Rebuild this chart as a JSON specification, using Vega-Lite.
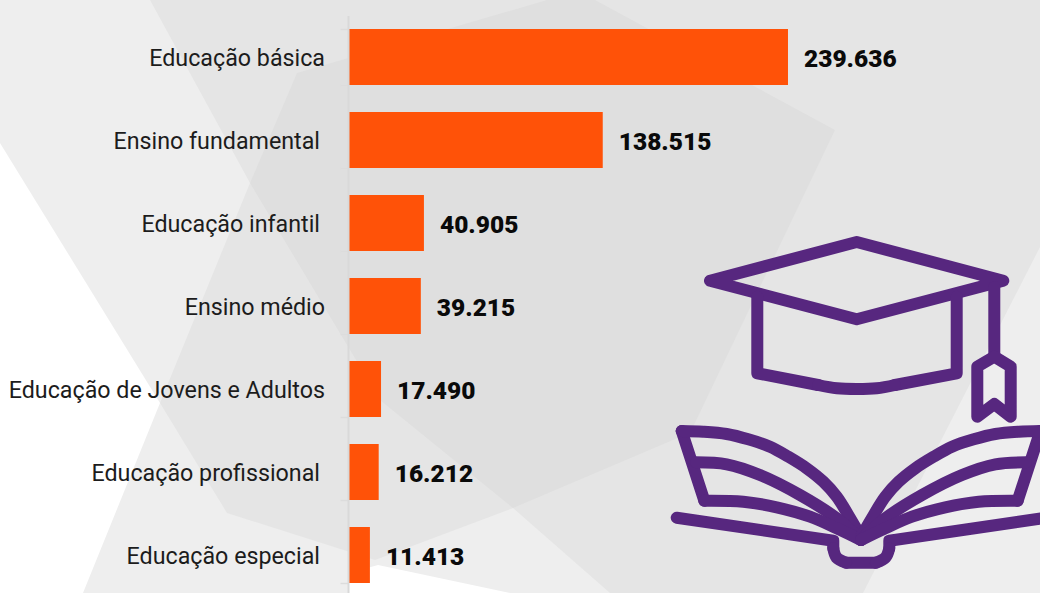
{
"$schema":"https://vega.github.io/schema/vega-lite/v6.json",
"width":1040,"height":593,"padding":0,"autosize":{"type":"none"},
"background":"#ffffff",
"config":{"view":{"stroke":null}},
"datasets":{
"claro":[{"o":1,"x":0,"y":0},{"o":2,"x":1040,"y":0},{"o":3,"x":1040,"y":593},{"o":4,"x":83,"y":593},{"o":5,"x":160,"y":403},{"o":6,"x":0,"y":143},{"o":7,"x":0,"y":0}],
"branco":[{"o":1,"x":349,"y":593},{"o":2,"x":349,"y":573},{"o":3,"x":378,"y":565},{"o":4,"x":510,"y":593},{"o":5,"x":349,"y":593}],
"medio":[{"o":1,"x":150,"y":0},{"o":2,"x":1040,"y":0},{"o":3,"x":1040,"y":247},{"o":4,"x":863,"y":593},{"o":5,"x":610,"y":593},{"o":6,"x":513,"y":508},{"o":7,"x":375,"y":560},{"o":8,"x":227,"y":513},{"o":9,"x":160,"y":403},{"o":10,"x":250,"y":183},{"o":11,"x":150,"y":0}],
"escuro":[{"o":1,"x":297,"y":73},{"o":2,"x":547,"y":0},{"o":3,"x":595,"y":0},{"o":4,"x":835,"y":130},{"o":5,"x":693,"y":427},{"o":6,"x":680,"y":437},{"o":7,"x":513,"y":508},{"o":8,"x":380,"y":400},{"o":9,"x":250,"y":183},{"o":10,"x":297,"y":73}],
"retas":[
{"p":"capelo","o":1,"x":710,"y":280.7},{"p":"capelo","o":2,"x":856.7,"y":242},{"p":"capelo","o":3,"x":1003.3,"y":280.7},{"p":"capelo","o":4,"x":856.7,"y":319.3},{"p":"capelo","o":5,"x":710,"y":280.7},
{"p":"baseE","o":1,"x":757.3,"y":296.7},{"p":"baseE","o":2,"x":757.3,"y":373.3},{"p":"baseE","o":3,"x":818,"y":385},
{"p":"baseD","o":1,"x":956.7,"y":296.7},{"p":"baseD","o":2,"x":956.7,"y":373.3},{"p":"baseD","o":3,"x":895,"y":385},
{"p":"fio","o":1,"x":994.3,"y":287},{"p":"fio","o":2,"x":994.3,"y":357},
{"p":"borla","o":1,"x":994.3,"y":356.7},{"p":"borla","o":2,"x":977.3,"y":366.7},{"p":"borla","o":3,"x":977.3,"y":416.7},{"p":"borla","o":4,"x":994.3,"y":404},{"p":"borla","o":5,"x":1010.7,"y":416.7},{"p":"borla","o":6,"x":1010.7,"y":366.7},{"p":"borla","o":7,"x":994.3,"y":356.7},
{"p":"ladoE","o":1,"x":704.3,"y":500.7},{"p":"ladoE","o":2,"x":681.7,"y":431},
{"p":"ladoD","o":1,"x":1017.7,"y":500.7},{"p":"ladoD","o":2,"x":1040.3,"y":431},
{"p":"capaE","o":1,"x":676.7,"y":517.7},{"p":"capaE","o":2,"x":833.3,"y":540.7},{"p":"capaE","o":3,"x":833.3,"y":548.3},
{"p":"capaD","o":1,"x":1046.7,"y":517.7},{"p":"capaD","o":2,"x":889.3,"y":540.7},{"p":"capaD","o":3,"x":889.3,"y":548.3},
{"p":"lombada","o":1,"x":846,"y":562.7},{"p":"lombada","o":2,"x":876,"y":562.7}
],
"curvas":[
{"p":"base","o":1,"x":818,"y":385},{"p":"base","o":2,"x":837,"y":388.3},{"p":"base","o":3,"x":856.7,"y":389},{"p":"base","o":4,"x":876.7,"y":388.3},{"p":"base","o":5,"x":895,"y":385},
{"p":"folhaE","o":1,"x":681.7,"y":431},{"p":"folhaE","o":2,"x":703.3,"y":431.7},{"p":"folhaE","o":3,"x":726.7,"y":434},{"p":"folhaE","o":4,"x":748.3,"y":439.3},{"p":"folhaE","o":5,"x":770,"y":446.7},{"p":"folhaE","o":6,"x":788.3,"y":456.7},{"p":"folhaE","o":7,"x":806.7,"y":468.3},{"p":"folhaE","o":8,"x":823.3,"y":481.7},{"p":"folhaE","o":9,"x":836.7,"y":496.7},{"p":"folhaE","o":10,"x":848.3,"y":515},{"p":"folhaE","o":11,"x":861,"y":536.7},
{"p":"meioE","o":1,"x":696,"y":462.3},{"p":"meioE","o":2,"x":726.7,"y":464.3},{"p":"meioE","o":3,"x":760,"y":475},{"p":"meioE","o":4,"x":800,"y":495},{"p":"meioE","o":5,"x":836.7,"y":518.3},{"p":"meioE","o":6,"x":861,"y":540},
{"p":"baixoE","o":1,"x":704.3,"y":500.7},{"p":"baixoE","o":2,"x":743.3,"y":501.7},{"p":"baixoE","o":3,"x":776.7,"y":507.3},{"p":"baixoE","o":4,"x":810,"y":516.7},{"p":"baixoE","o":5,"x":836.7,"y":528.3},{"p":"baixoE","o":6,"x":861,"y":540},
{"p":"folhaD","o":1,"x":1040.3,"y":431},{"p":"folhaD","o":2,"x":1018.7,"y":431.7},{"p":"folhaD","o":3,"x":995.3,"y":434},{"p":"folhaD","o":4,"x":973.7,"y":439.3},{"p":"folhaD","o":5,"x":952,"y":446.7},{"p":"folhaD","o":6,"x":933.7,"y":456.7},{"p":"folhaD","o":7,"x":915.3,"y":468.3},{"p":"folhaD","o":8,"x":898.7,"y":481.7},{"p":"folhaD","o":9,"x":885.3,"y":496.7},{"p":"folhaD","o":10,"x":873.7,"y":515},{"p":"folhaD","o":11,"x":861,"y":536.7},
{"p":"meioD","o":1,"x":1026,"y":462.3},{"p":"meioD","o":2,"x":995.3,"y":464.3},{"p":"meioD","o":3,"x":962,"y":475},{"p":"meioD","o":4,"x":922,"y":495},{"p":"meioD","o":5,"x":885.3,"y":518.3},{"p":"meioD","o":6,"x":861,"y":540},
{"p":"baixoD","o":1,"x":1017.7,"y":500.7},{"p":"baixoD","o":2,"x":978.7,"y":501.7},{"p":"baixoD","o":3,"x":945.3,"y":507.3},{"p":"baixoD","o":4,"x":912,"y":516.7},{"p":"baixoD","o":5,"x":885.3,"y":528.3},{"p":"baixoD","o":6,"x":861,"y":540},
{"p":"cantoE","o":1,"x":833.3,"y":548.3},{"p":"cantoE","o":2,"x":836.5,"y":557.5},{"p":"cantoE","o":3,"x":846,"y":562.7},
{"p":"cantoD","o":1,"x":889.3,"y":548.3},{"p":"cantoD","o":2,"x":885.5,"y":557.5},{"p":"cantoD","o":3,"x":876,"y":562.7}
],
"matriculas":[
{"etapa":"Educação básica","matriculas":239636,"rotulo":"239.636"},
{"etapa":"Ensino fundamental","matriculas":138515,"rotulo":"138.515"},
{"etapa":"Educação infantil","matriculas":40905,"rotulo":"40.905"},
{"etapa":"Ensino médio","matriculas":39215,"rotulo":"39.215"},
{"etapa":"Educação de Jovens e Adultos","matriculas":17490,"rotulo":"17.490"},
{"etapa":"Educação profissional","matriculas":16212,"rotulo":"16.212"},
{"etapa":"Educação especial","matriculas":11413,"rotulo":"11.413"}
]},
"layer":[
{"data":{"name":"claro"},"mark":{"type":"line","fill":"#eeeeee","stroke":"#eeeeee","strokeWidth":0},
 "encoding":{"order":{"field":"o","type":"quantitative"},"x":{"field":"x","type":"quantitative","axis":null,"scale":{"domain":[0,1040],"nice":false,"zero":false}},"y":{"field":"y","type":"quantitative","axis":null,"scale":{"domain":[593,0],"nice":false,"zero":false}}}},
{"data":{"name":"branco"},"mark":{"type":"line","fill":"#ffffff","stroke":"#ffffff","strokeWidth":0},
 "encoding":{"order":{"field":"o","type":"quantitative"},"x":{"field":"x","type":"quantitative","axis":null,"scale":{"domain":[0,1040],"nice":false,"zero":false}},"y":{"field":"y","type":"quantitative","axis":null,"scale":{"domain":[593,0],"nice":false,"zero":false}}}},
{"data":{"name":"medio"},"mark":{"type":"line","fill":"#e5e5e5","stroke":"#e5e5e5","strokeWidth":0},
 "encoding":{"order":{"field":"o","type":"quantitative"},"x":{"field":"x","type":"quantitative","axis":null,"scale":{"domain":[0,1040],"nice":false,"zero":false}},"y":{"field":"y","type":"quantitative","axis":null,"scale":{"domain":[593,0],"nice":false,"zero":false}}}},
{"data":{"name":"escuro"},"mark":{"type":"line","fill":"#dfdfdf","stroke":"#dfdfdf","strokeWidth":0},
 "encoding":{"order":{"field":"o","type":"quantitative"},"x":{"field":"x","type":"quantitative","axis":null,"scale":{"domain":[0,1040],"nice":false,"zero":false}},"y":{"field":"y","type":"quantitative","axis":null,"scale":{"domain":[593,0],"nice":false,"zero":false}}}},
{"data":{"name":"retas"},"mark":{"type":"line","stroke":"#57277f","strokeWidth":12,"strokeCap":"round","strokeJoin":"round"},
 "encoding":{"detail":{"field":"p"},"order":{"field":"o","type":"quantitative"},"x":{"field":"x","type":"quantitative","axis":null,"scale":{"domain":[0,1040],"nice":false,"zero":false}},"y":{"field":"y","type":"quantitative","axis":null,"scale":{"domain":[593,0],"nice":false,"zero":false}}}},
{"data":{"name":"curvas"},"mark":{"type":"line","interpolate":"catmull-rom","stroke":"#57277f","strokeWidth":12,"strokeCap":"round","strokeJoin":"round"},
 "encoding":{"detail":{"field":"p"},"order":{"field":"o","type":"quantitative"},"x":{"field":"x","type":"quantitative","axis":null,"scale":{"domain":[0,1040],"nice":false,"zero":false}},"y":{"field":"y","type":"quantitative","axis":null,"scale":{"domain":[593,0],"nice":false,"zero":false}}}},
{"data":{"name":"matriculas"},"mark":{"type":"bar","color":"#ff5208","height":56},
 "encoding":{
  "x":{"field":"matriculas","type":"quantitative","axis":null,"scale":{"domain":[-190510,377203],"nice":false,"zero":false}},
  "y":{"field":"etapa","type":"nominal","sort":null,"title":null,"scale":{"range":[15.5,596.5],"paddingInner":0.325,"paddingOuter":0.1625},
   "axis":{"orient":"left","offset":-348,"zindex":1,"tickBand":"extent","tickSize":8,"tickColor":"#dcdcdc","tickWidth":1.5,"domainColor":"#d9d9d9","domainWidth":2,"labels":false,"grid":false}}}},
{"data":{"name":"matriculas"},"transform":[{"filter":"!test(/l$/, datum.etapa)"}],"mark":{"type":"text","align":"right","baseline":"middle","dx":-24,"dy":2,"font":"Roboto","fontSize":23.25,"color":"#1c1c1c"},
 "encoding":{
  "x":{"datum":0,"type":"quantitative","axis":null,"scale":{"domain":[-190510,377203],"nice":false,"zero":false}},
  "y":{"field":"etapa","type":"nominal","sort":null,"axis":null,"scale":{"domain":["Educação básica","Ensino fundamental","Educação infantil","Ensino médio","Educação de Jovens e Adultos","Educação profissional","Educação especial"],"range":[15.5,596.5],"paddingInner":0.325,"paddingOuter":0.1625}},
  "text":{"field":"etapa","type":"nominal"}}},
{"data":{"name":"matriculas"},"transform":[{"filter":"test(/l$/, datum.etapa)"}],"mark":{"type":"text","align":"right","baseline":"middle","dx":-29,"dy":2,"font":"Roboto","fontSize":23.25,"color":"#1c1c1c"},
 "encoding":{
  "x":{"datum":0,"type":"quantitative","axis":null,"scale":{"domain":[-190510,377203],"nice":false,"zero":false}},
  "y":{"field":"etapa","type":"nominal","sort":null,"axis":null,"scale":{"domain":["Educação básica","Ensino fundamental","Educação infantil","Ensino médio","Educação de Jovens e Adultos","Educação profissional","Educação especial"],"range":[15.5,596.5],"paddingInner":0.325,"paddingOuter":0.1625}},
  "text":{"field":"etapa","type":"nominal"}}},
{"data":{"name":"matriculas"},"mark":{"type":"text","align":"left","baseline":"middle","dx":16,"dy":3,"font":"Roboto","fontWeight":900,"fontSize":24.5,"color":"#0a0a0a"},
 "encoding":{
  "x":{"field":"matriculas","type":"quantitative","axis":null,"scale":{"domain":[-190510,377203],"nice":false,"zero":false}},
  "y":{"field":"etapa","type":"nominal","sort":null,"axis":null,"scale":{"domain":["Educação básica","Ensino fundamental","Educação infantil","Ensino médio","Educação de Jovens e Adultos","Educação profissional","Educação especial"],"range":[15.5,596.5],"paddingInner":0.325,"paddingOuter":0.1625}},
  "text":{"field":"rotulo","type":"nominal"}}}
],
"resolve":{"scale":{"x":"independent","y":"independent"}}
}
